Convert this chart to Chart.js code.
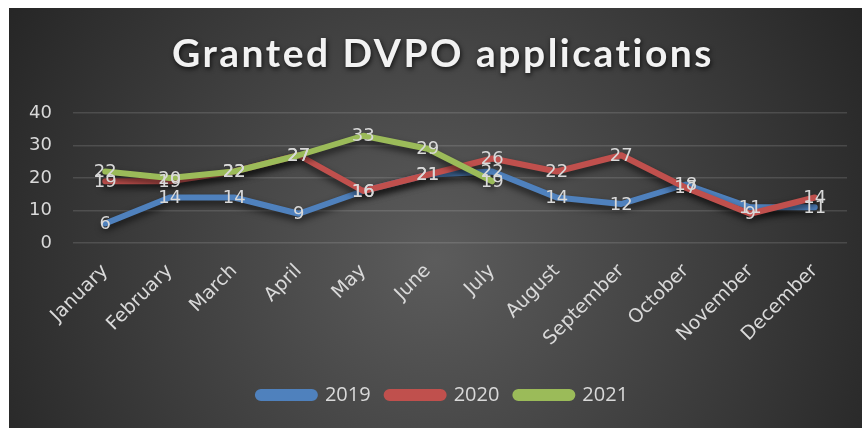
<!DOCTYPE html>
<html>
<head>
<meta charset="utf-8">
<script src="https://cdn.jsdelivr.net/npm/chart.js@4/dist/chart.umd.min.js"></script>
<style>
  html, body { margin: 0; padding: 0; background: #ffffff; }
  #wrap { position: absolute; left: 9px; top: 8px; width: 853px; height: 420px; }
  canvas { display: block; }
</style>
</head>
<body>
<div id="wrap"><canvas id="c" width="853" height="420"></canvas></div>
<script>
const months = ['January','February','March','April','May','June','July','August','September','October','November','December'];
const seriesNames = ['2019','2020','2021'];
const values2019 = [6, 14, 14, 9, 16, 21, 22, 14, 12, 18, 11, 11];
const values2020 = [19, 19, 22, 27, 16, 21, 26, 22, 27, 17, 9, 14];
const values2021 = [22, 20, 22, 27, 33, 29, 19, null, null, null, null, null];
const yTicks = [0, 10, 20, 30, 40];
const colors = ['#4F81BD', '#C0504D', '#9BBB59'];
const textColor = '#d9d9d9';
const wideFont = '"DejaVu Sans", sans-serif';
const legendFont = '"Open Sans", sans-serif';
const titleFont = 'Lato, "Open Sans", sans-serif';

const bgPlugin = {
  id: 'bg',
  beforeDraw(chart) {
    const { ctx, width, height } = chart;
    ctx.save();
    const g = ctx.createRadialGradient(width * 0.5, height * 0.6, 0, width * 0.5, height * 0.6, width * 0.58);
    g.addColorStop(0, '#5c5c5c');
    g.addColorStop(1, '#262626');
    ctx.fillStyle = g;
    ctx.fillRect(0, 0, width, height);
    ctx.restore();
  }
};

const shadowPlugin = {
  id: 'lineShadow',
  afterLayout(chart) {
    // centre title and legend on the original (wider) chart frame
    const shift = 15;
    [chart.titleBlock, chart.legend].forEach(b => {
      if (b) { b.left += shift; b.right += shift; }
    });
    const tb = chart.titleBlock;
    if (tb && !tb._shadowWrapped) {
      const orig = tb.draw;
      tb.draw = function (a) {
        const ctx = this.ctx;
        ctx.save();
        ctx.shadowColor = 'rgba(0,0,0,0.75)';
        ctx.shadowBlur = 5;
        ctx.shadowOffsetX = 1;
        ctx.shadowOffsetY = 2;
        ctx.letterSpacing = '2.5px';
        orig.call(this, a);
        ctx.restore();
      };
      tb._shadowWrapped = true;
    }
  },
  beforeDatasetDraw(chart) {
    const ctx = chart.ctx;
    ctx.save();
    ctx.shadowColor = 'rgba(0,0,0,0.65)';
    ctx.shadowBlur = 7;
    ctx.shadowOffsetX = 0;
    ctx.shadowOffsetY = 4;
  },
  afterDatasetDraw(chart) {
    chart.ctx.restore();
  }
};

const labelPlugin = {
  id: 'pointLabels',
  afterDatasetsDraw(chart) {
    const ctx = chart.ctx;
    ctx.save();
    ctx.font = '18px ' + wideFont;
    ctx.fillStyle = textColor;
    ctx.textAlign = 'center';
    ctx.textBaseline = 'middle';
    chart.data.datasets.forEach((ds, di) => {
      const meta = chart.getDatasetMeta(di);
      meta.data.forEach((pt, i) => {
        const v = ds.data[i];
        if (v === null || v === undefined) return;
        ctx.fillText(String(v), pt.x, pt.y + 1);
      });
    });
    ctx.restore();
  }
};

const seriesValues = [values2019, values2020, values2021];

new Chart(document.getElementById('c'), {
  type: 'line',
  data: {
    labels: months,
    datasets: seriesNames.map((name, i) => ({
      label: name,
      data: seriesValues[i],
      borderColor: colors[i],
      backgroundColor: colors[i],
      borderWidth: 6,
      pointRadius: 0,
      pointHoverRadius: 0,
      tension: 0,
      borderJoinStyle: 'round',
      borderCapStyle: 'round',
      spanGaps: false,
      order: 3 - i
    }))
  },
  options: {
    responsive: false,
    animation: false,
    devicePixelRatio: 1,
    layout: { padding: { left: 0, right: 15, top: 0, bottom: 13 } },
    plugins: {
      tooltip: { enabled: false },
      title: {
        display: true,
        text: 'Granted DVPO applications',
        color: '#f2f2f2',
        font: { family: titleFont, size: 39, weight: 'bold', lineHeight: 1.2 },
        padding: { top: 22.6, bottom: 35.6 }
      },
      legend: {
        display: true,
        position: 'bottom',
        labels: {
          sort: (a, b) => a.datasetIndex - b.datasetIndex,
          color: textColor,
          font: { family: legendFont, size: 20 },
          boxWidth: 57,
          boxHeight: 6,
          useBorderRadius: true,
          borderRadius: 3,
          padding: 16
        }
      }
    },
    scales: {
      x: {
        offset: true,
        grid: { display: false, drawTicks: false },
        border: { display: false },
        ticks: {
          color: textColor,
          font: { family: wideFont, size: 19 },
          minRotation: 45,
          maxRotation: 45,
          padding: 17,
          autoSkip: false
        },
        afterFit(scale) { scale.height = 126; }
      },
      y: {
        min: 0,
        max: 40,
        afterBuildTicks(scale) { scale.ticks = yTicks.map(v => ({ value: v })); },
        grid: { color: 'rgba(255,255,255,0.13)', lineWidth: 1.5, drawTicks: false },
        border: { display: false },
        ticks: {
          color: textColor,
          font: { family: wideFont, size: 18 },
          padding: 21
        },
        afterFit(scale) { scale.width = 64; }
      }
    }
  },
  plugins: [bgPlugin, shadowPlugin, labelPlugin]
});
</script>
</body>
</html>
